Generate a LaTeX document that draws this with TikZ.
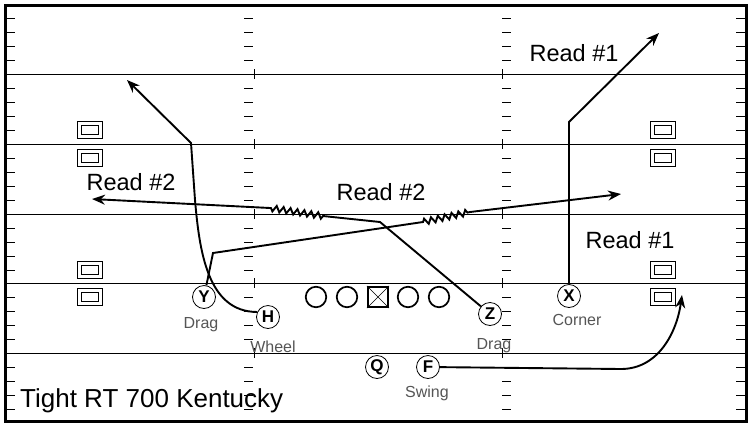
\documentclass[tikz,border=0pt]{standalone}
\usepackage{fontspec}
\setmainfont{Liberation Sans}
\usetikzlibrary{arrows.meta, decorations.pathmorphing}
\definecolor{LabelGray}{HTML}{555555}

\begin{document}
\begin{tikzpicture}[x=1pt, y=-1pt,
    yardline/.style={line width=0.8pt},
    player/.style={circle, draw, line width=0.8pt, minimum size=23pt, inner sep=0pt, font=\fontsize{17}{17}\selectfont\bfseries},
    lineman/.style={circle, draw, line width=1.7pt, minimum size=20.5pt, inner sep=0pt},
    defender/.style={draw, line width=0.8pt, double, double distance=3.2pt, minimum width=21pt, minimum height=13pt, inner sep=0pt},
    route/.style={line width=1.9pt, -{Stealth[length=13pt, width=10pt]}},
    wiggle/.style={decoration={zigzag, segment length=7pt, amplitude=3pt}},
    tag/.style={font=\fontsize{16}{16}\selectfont, text=LabelGray, anchor=base, inner sep=0pt},
    readlabel/.style={font=\fontsize{23.5}{23.5}\selectfont, anchor=base, inner sep=0pt}]
    \useasboundingbox (0,0) rectangle (754,429);

    % Yard lines
    \foreach \yl in {74,144,214,283,353}
        \draw[yardline] (5,\yl) -- (747,\yl);

    % Side ticks and hash marks
    \foreach \yl in {4,74,144,214,283,353}
        \foreach \j in {1,...,4} {
            \draw[yardline] (5,\yl+14*\j) -- (15,\yl+14*\j);
            \draw[yardline] (736,\yl+14*\j) -- (746,\yl+14*\j);
            \draw[yardline] (244,\yl+14*\j) -- (253,\yl+14*\j);
            \draw[yardline] (502,\yl+14*\j) -- (511,\yl+14*\j);
        }
    \foreach \yl in {74,144,214,283,353} {
        \draw[yardline] (254,\yl-5) -- (254,\yl+5);
        \draw[yardline] (502,\yl-5) -- (502,\yl+5);
    }

    % Frame
    \draw[line width=3.5pt] (5.5,5.5) rectangle (746.5,421.5);

    % Defenders
    \foreach \dx/\dy [count=\i] in {90/130, 90/158, 90/270, 90/297, 663/130, 663/158, 663/270, 663/297}
        \node[defender] (d\i) at (\dx,\dy) {};

    % Offensive line
    \node[lineman] (lt) at (316,297) {};
    \node[lineman] (lg) at (347,297) {};
    \node[draw, line width=1.7pt, minimum size=20.5pt, inner sep=0pt] (ctr) at (378,297) {};
    \draw[line width=0.6pt] (ctr.north west) -- (ctr.south east) (ctr.north east) -- (ctr.south west);
    \node[lineman] (rg) at (408,297) {};
    \node[lineman] (rt) at (439,297) {};

    % Backs and receivers
    \node[player] (Y) at (204,297) {Y};
    \node[player] (H) at (268,317) {H};
    \node[player] (Z) at (490,314) {Z};
    \node[player] (X) at (569,296) {X};
    \node[player] (Q) at (377,367) {Q};
    \node[player] (F) at (428,367) {F};

    \node[tag] (yTag) at (201,328) {Drag};
    \node[tag] (hTag) at (273,352) {Wheel};
    \node[tag] (zTag) at (494,349) {Drag};
    \node[tag] (xTag) at (577,325) {Corner};
    \node[tag] (fTag) at (427,397) {Swing};

    % Route points
    \coordinate (y1) at (213,253);
    \coordinate (y2) at (423,222);
    \coordinate (y3) at (470,212);
    \coordinate (y4) at (621,194);
    \coordinate (h1) at (195,200);
    \coordinate (h2) at (191,143);
    \coordinate (h3) at (127,80);
    \coordinate (z1) at (380,222);
    \coordinate (z2) at (323,216);
    \coordinate (z3) at (270,208);
    \coordinate (z4) at (92,199);
    \coordinate (x1) at (569,122);
    \coordinate (x2) at (659,33);
    \coordinate (f1) at (621,369);
    \coordinate (f2) at (682,295);

    % Routes
    \draw[route, wiggle] (Y) -- (y1) -- (y2) decorate {-- (y3)} -- (y4);
    \draw[route] (H.155) to[out=180, in=-85] (h1) -- (h2) -- (h3);
    \draw[route, wiggle] (Z) -- (z1) -- (z2) decorate {-- (z3)} -- (z4);
    \draw[route] (X) -- (x1) -- (x2);
    \draw[route] (F) -- (f1) to[out=0, in=-98] (f2);

    % Reads
    \node[readlabel] (read1a) at (574,61) {Read \#1};
    \node[readlabel] (read1b) at (630,248) {Read \#1};
    \node[readlabel] (read2a) at (131,190) {Read \#2};
    \node[readlabel] (read2b) at (381,200) {Read \#2};

    % Title
    \node[font=\fontsize{26}{26}\selectfont, anchor=base west, inner sep=0pt] (title) at (20,407) {Tight RT 700 Kentucky};
\end{tikzpicture}
\end{document}
